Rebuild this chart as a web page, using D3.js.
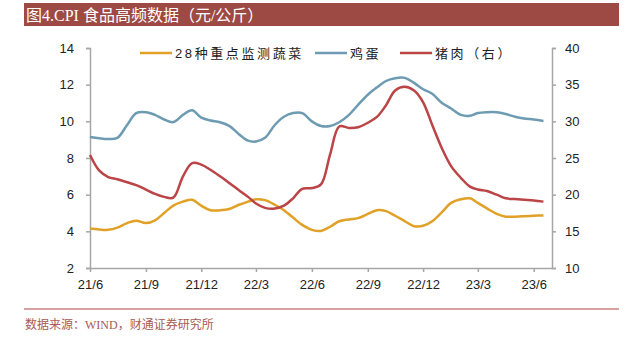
<!DOCTYPE html>
<html>
<head>
<meta charset="utf-8">
<script src="https://cdn.jsdelivr.net/npm/d3@7"></script>
<style>
  body { margin: 0; background: #fff; }
  .tick text { font-family: "Liberation Sans", Arial, sans-serif; font-size: 13px; fill: #222; }
</style>
</head>
<body>
<div id="graphic"></div>
<script>
// half-month readings, from 2021-06 to 2023-06
const dates = [
  "2021-06-01","2021-06-16","2021-07-01","2021-07-16","2021-08-01","2021-08-16",
  "2021-09-01","2021-09-16","2021-10-01","2021-10-16","2021-11-01","2021-11-16",
  "2021-12-01","2021-12-16","2022-01-01","2022-01-16","2022-02-01","2022-02-16",
  "2022-03-01","2022-03-16","2022-04-01","2022-04-16","2022-05-01","2022-05-16",
  "2022-06-01","2022-06-16","2022-07-01","2022-07-16","2022-08-01","2022-08-16",
  "2022-09-01","2022-09-16","2022-10-01","2022-10-16","2022-11-01","2022-11-16",
  "2022-12-01","2022-12-16","2023-01-01","2023-01-16","2023-02-01","2023-02-16",
  "2023-03-01","2023-03-16","2023-04-01","2023-04-16","2023-05-01","2023-05-16",
  "2023-06-01","2023-06-17"
];

// 28种重点监测蔬菜 (left axis)
const veg = [
  4.15, 4.10, 4.08, 4.20, 4.45, 4.58,
  4.45, 4.60, 5.00, 5.40, 5.62, 5.72,
  5.40, 5.15, 5.15, 5.22, 5.45, 5.62,
  5.75, 5.70, 5.45, 5.15, 4.75, 4.35,
  4.08, 4.02, 4.25, 4.55, 4.65, 4.72,
  4.95, 5.15, 5.10, 4.85, 4.55, 4.28,
  4.30, 4.55, 5.05, 5.55, 5.75, 5.80,
  5.55, 5.25, 4.95, 4.80, 4.80, 4.82,
  4.85, 4.87
];

// 鸡蛋 (left axis)
const egg = [
  9.15, 9.08, 9.04, 9.10, 9.80, 10.45,
  10.50, 10.35, 10.10, 9.96, 10.35, 10.60,
  10.20, 10.05, 9.95, 9.75, 9.30, 8.95,
  8.90, 9.10, 9.80, 10.25, 10.45, 10.45,
  10.00, 9.75, 9.75, 9.95, 10.35, 10.90,
  11.45, 11.85, 12.20, 12.35, 12.37, 12.10,
  11.75, 11.50, 11.00, 10.70, 10.35, 10.30,
  10.45, 10.50, 10.50, 10.40, 10.25, 10.15,
  10.10, 10.02
];

// 猪肉（右） (right axis)
const pork = [
  25.4, 23.3, 22.4, 22.1, 21.7, 21.3,
  20.7, 20.1, 19.7, 19.6, 22.5, 24.3,
  24.1, 23.4, 22.5, 21.6, 20.6, 19.7,
  18.8, 18.2, 18.1, 18.5, 19.5, 20.8,
  20.9, 21.4, 25.5, 29.3, 29.1, 29.2,
  29.8, 30.6, 32.2, 34.2, 34.7, 34.2,
  32.6, 29.5, 26.3, 23.9, 22.3, 21.1,
  20.7, 20.5, 20.0, 19.5, 19.4, 19.3,
  19.2, 19.05
];

const leftTicks = [2, 4, 6, 8, 10, 12, 14];
const rightTicks = [10, 15, 20, 25, 30, 35, 40];
const xTicks = ["2021-06-01","2021-09-01","2021-12-01","2022-03-01","2022-06-01",
                "2022-09-01","2022-12-01","2023-03-01","2023-06-01"];

const seriesNames = ["28种重点监测蔬菜", "鸡蛋", "猪肉（右）"];
const seriesColors = ["#e0a126", "#6d9bb1", "#bb4446"];

const W = 627, H = 338;
const plot = {left: 90, right: 552, top: 48, bottom: 268};

const parse = d3.timeParse("%Y-%m-%d");
const days = dates.map(parse);

const svg = d3.select("#graphic")
    .append("svg")
    .attr("width", W)
    .attr("height", H);

// title bar
svg.append("rect")
    .attr("x", 24).attr("y", 3)
    .attr("width", 595).attr("height", 23)
    .attr("fill", "#9d4a45");
svg.append("text")
    .attr("x", 26).attr("y", 21)
    .style("font-family", "'Liberation Serif', 'Noto Sans CJK SC', serif")
    .style("font-size", "16px")
    .attr("fill", "#fff")
    .text("图4.CPI 食品高频数据（元/公斤）");

const x = d3.scaleTime()
    .domain([parse("2021-06-01"), parse("2023-07-01")])
    .range([plot.left, plot.right]);
const yL = d3.scaleLinear().domain([2, 14]).range([plot.bottom, plot.top]);
const yR = d3.scaleLinear().domain([10, 40]).range([plot.bottom, plot.top]);

function styleAxis(g) {
    g.select(".domain").attr("stroke", "#a6a6a6").attr("stroke-width", 1.5);
    g.selectAll(".tick line").attr("stroke", "#a6a6a6").attr("stroke-width", 1.5);
}

svg.append("g")
    .attr("transform", `translate(${plot.left},0)`)
    .call(d3.axisLeft(yL).tickValues(leftTicks).tickSize(4).tickSizeOuter(4).tickPadding(12))
    .call(styleAxis);

svg.append("g")
    .attr("transform", `translate(${plot.right},0)`)
    .call(d3.axisRight(yR).tickValues(rightTicks).tickSize(4).tickSizeOuter(4).tickPadding(9))
    .call(styleAxis);

svg.append("g")
    .attr("transform", `translate(0,${plot.bottom})`)
    .call(d3.axisBottom(x).tickValues(xTicks.map(parse)).tickFormat(d3.timeFormat("%y/%-m"))
        .tickSize(4).tickSizeOuter(0).tickPadding(8))
    .call(styleAxis);

// lines, smoothed like the original
const lineL = d3.line().x((d, i) => x(days[i])).y(d => yL(d)).curve(d3.curveCatmullRom.alpha(0.5));
const lineR = d3.line().x((d, i) => x(days[i])).y(d => yR(d)).curve(d3.curveCatmullRom.alpha(0.5));

svg.append("path").datum(veg)
    .attr("fill", "none").attr("stroke", seriesColors[0]).attr("stroke-width", 2.5)
    .attr("d", lineL);
svg.append("path").datum(egg)
    .attr("fill", "none").attr("stroke", seriesColors[1]).attr("stroke-width", 2.5)
    .attr("d", lineL);
svg.append("path").datum(pork)
    .attr("fill", "none").attr("stroke", seriesColors[2]).attr("stroke-width", 2.5)
    .attr("d", lineR);

// legend
const legendX = [140, 315, 400];
const legend = svg.append("g").selectAll("g")
    .data(seriesNames)
    .join("g")
    .attr("transform", (d, i) => `translate(${legendX[i]},53)`);
legend.append("line")
    .attr("x1", 0).attr("x2", 32)
    .attr("stroke", (d, i) => seriesColors[i]).attr("stroke-width", 2.5);
legend.append("text")
    .attr("x", 35).attr("y", 5)
    .style("font-family", "'Liberation Sans', 'Noto Sans CJK SC', sans-serif")
    .style("font-size", "13px")
    .style("letter-spacing", "2.6px")
    .attr("fill", "#222")
    .text(d => d);

// footer
svg.append("line")
    .attr("x1", 24).attr("x2", 619)
    .attr("y1", 309).attr("y2", 309)
    .attr("stroke", "#c98580").attr("stroke-width", 1.5);
svg.append("text")
    .attr("x", 25).attr("y", 329)
    .style("font-family", "'Liberation Serif', 'Noto Sans CJK SC', serif")
    .style("font-size", "12px")
    .attr("fill", "#a85a55")
    .text("数据来源：WIND，财通证券研究所");
</script>
</body>
</html>
